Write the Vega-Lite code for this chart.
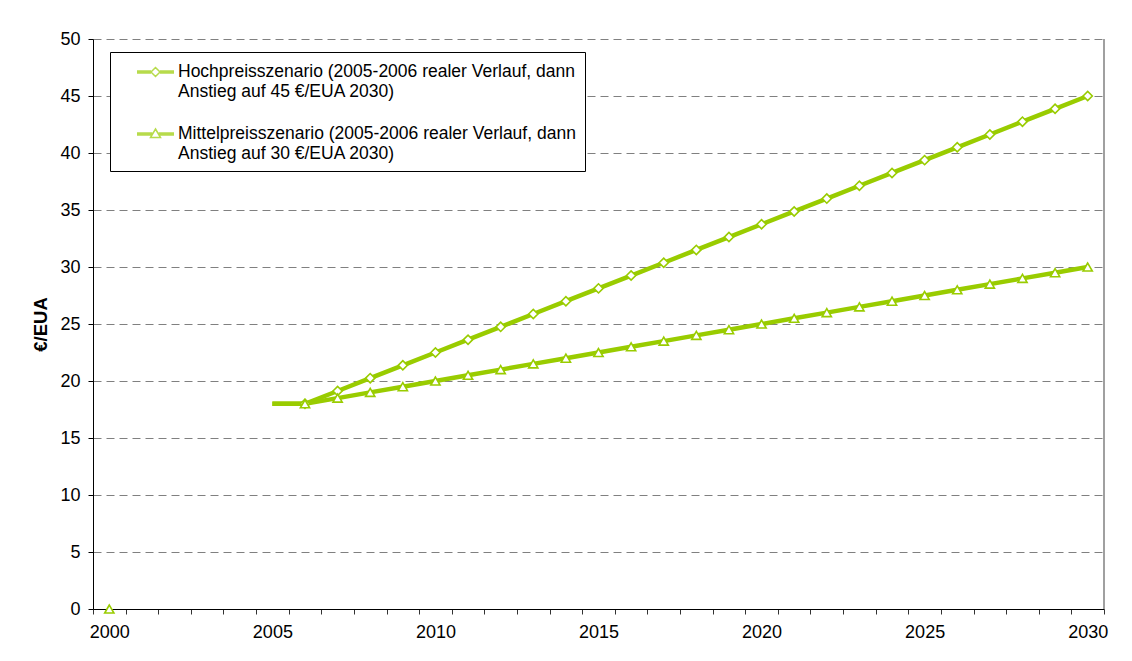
{
  "$schema": "https://vega.github.io/schema/vega-lite/v6.json",
  "width": 1011,
  "height": 570,
  "autosize": "none",
  "padding": {"left": 93, "top": 39, "right": 28, "bottom": 52},
  "background": "white",
  "config": {"view": {"stroke": null}, "font": "Liberation Sans"},
  "datasets": {
    "prices": [
      {"year": 2005, "value": 18, "series": "Hochpreisszenario (2005-2006 realer Verlauf, dann Anstieg auf 45 €/EUA 2030)"},
      {"year": 2006, "value": 18, "series": "Hochpreisszenario (2005-2006 realer Verlauf, dann Anstieg auf 45 €/EUA 2030)"},
      {"year": 2007, "value": 19.125, "series": "Hochpreisszenario (2005-2006 realer Verlauf, dann Anstieg auf 45 €/EUA 2030)"},
      {"year": 2008, "value": 20.25, "series": "Hochpreisszenario (2005-2006 realer Verlauf, dann Anstieg auf 45 €/EUA 2030)"},
      {"year": 2009, "value": 21.375, "series": "Hochpreisszenario (2005-2006 realer Verlauf, dann Anstieg auf 45 €/EUA 2030)"},
      {"year": 2010, "value": 22.5, "series": "Hochpreisszenario (2005-2006 realer Verlauf, dann Anstieg auf 45 €/EUA 2030)"},
      {"year": 2011, "value": 23.625, "series": "Hochpreisszenario (2005-2006 realer Verlauf, dann Anstieg auf 45 €/EUA 2030)"},
      {"year": 2012, "value": 24.75, "series": "Hochpreisszenario (2005-2006 realer Verlauf, dann Anstieg auf 45 €/EUA 2030)"},
      {"year": 2013, "value": 25.875, "series": "Hochpreisszenario (2005-2006 realer Verlauf, dann Anstieg auf 45 €/EUA 2030)"},
      {"year": 2014, "value": 27, "series": "Hochpreisszenario (2005-2006 realer Verlauf, dann Anstieg auf 45 €/EUA 2030)"},
      {"year": 2015, "value": 28.125, "series": "Hochpreisszenario (2005-2006 realer Verlauf, dann Anstieg auf 45 €/EUA 2030)"},
      {"year": 2016, "value": 29.25, "series": "Hochpreisszenario (2005-2006 realer Verlauf, dann Anstieg auf 45 €/EUA 2030)"},
      {"year": 2017, "value": 30.375, "series": "Hochpreisszenario (2005-2006 realer Verlauf, dann Anstieg auf 45 €/EUA 2030)"},
      {"year": 2018, "value": 31.5, "series": "Hochpreisszenario (2005-2006 realer Verlauf, dann Anstieg auf 45 €/EUA 2030)"},
      {"year": 2019, "value": 32.625, "series": "Hochpreisszenario (2005-2006 realer Verlauf, dann Anstieg auf 45 €/EUA 2030)"},
      {"year": 2020, "value": 33.75, "series": "Hochpreisszenario (2005-2006 realer Verlauf, dann Anstieg auf 45 €/EUA 2030)"},
      {"year": 2021, "value": 34.875, "series": "Hochpreisszenario (2005-2006 realer Verlauf, dann Anstieg auf 45 €/EUA 2030)"},
      {"year": 2022, "value": 36, "series": "Hochpreisszenario (2005-2006 realer Verlauf, dann Anstieg auf 45 €/EUA 2030)"},
      {"year": 2023, "value": 37.125, "series": "Hochpreisszenario (2005-2006 realer Verlauf, dann Anstieg auf 45 €/EUA 2030)"},
      {"year": 2024, "value": 38.25, "series": "Hochpreisszenario (2005-2006 realer Verlauf, dann Anstieg auf 45 €/EUA 2030)"},
      {"year": 2025, "value": 39.375, "series": "Hochpreisszenario (2005-2006 realer Verlauf, dann Anstieg auf 45 €/EUA 2030)"},
      {"year": 2026, "value": 40.5, "series": "Hochpreisszenario (2005-2006 realer Verlauf, dann Anstieg auf 45 €/EUA 2030)"},
      {"year": 2027, "value": 41.625, "series": "Hochpreisszenario (2005-2006 realer Verlauf, dann Anstieg auf 45 €/EUA 2030)"},
      {"year": 2028, "value": 42.75, "series": "Hochpreisszenario (2005-2006 realer Verlauf, dann Anstieg auf 45 €/EUA 2030)"},
      {"year": 2029, "value": 43.875, "series": "Hochpreisszenario (2005-2006 realer Verlauf, dann Anstieg auf 45 €/EUA 2030)"},
      {"year": 2030, "value": 45, "series": "Hochpreisszenario (2005-2006 realer Verlauf, dann Anstieg auf 45 €/EUA 2030)"},
      {"year": 2000, "value": 0, "series": "Mittelpreisszenario (2005-2006 realer Verlauf, dann Anstieg auf 30 €/EUA 2030)"},
      {"year": 2005, "value": 18, "series": "Mittelpreisszenario (2005-2006 realer Verlauf, dann Anstieg auf 30 €/EUA 2030)"},
      {"year": 2006, "value": 18, "series": "Mittelpreisszenario (2005-2006 realer Verlauf, dann Anstieg auf 30 €/EUA 2030)"},
      {"year": 2007, "value": 18.5, "series": "Mittelpreisszenario (2005-2006 realer Verlauf, dann Anstieg auf 30 €/EUA 2030)"},
      {"year": 2008, "value": 19, "series": "Mittelpreisszenario (2005-2006 realer Verlauf, dann Anstieg auf 30 €/EUA 2030)"},
      {"year": 2009, "value": 19.5, "series": "Mittelpreisszenario (2005-2006 realer Verlauf, dann Anstieg auf 30 €/EUA 2030)"},
      {"year": 2010, "value": 20, "series": "Mittelpreisszenario (2005-2006 realer Verlauf, dann Anstieg auf 30 €/EUA 2030)"},
      {"year": 2011, "value": 20.5, "series": "Mittelpreisszenario (2005-2006 realer Verlauf, dann Anstieg auf 30 €/EUA 2030)"},
      {"year": 2012, "value": 21, "series": "Mittelpreisszenario (2005-2006 realer Verlauf, dann Anstieg auf 30 €/EUA 2030)"},
      {"year": 2013, "value": 21.5, "series": "Mittelpreisszenario (2005-2006 realer Verlauf, dann Anstieg auf 30 €/EUA 2030)"},
      {"year": 2014, "value": 22, "series": "Mittelpreisszenario (2005-2006 realer Verlauf, dann Anstieg auf 30 €/EUA 2030)"},
      {"year": 2015, "value": 22.5, "series": "Mittelpreisszenario (2005-2006 realer Verlauf, dann Anstieg auf 30 €/EUA 2030)"},
      {"year": 2016, "value": 23, "series": "Mittelpreisszenario (2005-2006 realer Verlauf, dann Anstieg auf 30 €/EUA 2030)"},
      {"year": 2017, "value": 23.5, "series": "Mittelpreisszenario (2005-2006 realer Verlauf, dann Anstieg auf 30 €/EUA 2030)"},
      {"year": 2018, "value": 24, "series": "Mittelpreisszenario (2005-2006 realer Verlauf, dann Anstieg auf 30 €/EUA 2030)"},
      {"year": 2019, "value": 24.5, "series": "Mittelpreisszenario (2005-2006 realer Verlauf, dann Anstieg auf 30 €/EUA 2030)"},
      {"year": 2020, "value": 25, "series": "Mittelpreisszenario (2005-2006 realer Verlauf, dann Anstieg auf 30 €/EUA 2030)"},
      {"year": 2021, "value": 25.5, "series": "Mittelpreisszenario (2005-2006 realer Verlauf, dann Anstieg auf 30 €/EUA 2030)"},
      {"year": 2022, "value": 26, "series": "Mittelpreisszenario (2005-2006 realer Verlauf, dann Anstieg auf 30 €/EUA 2030)"},
      {"year": 2023, "value": 26.5, "series": "Mittelpreisszenario (2005-2006 realer Verlauf, dann Anstieg auf 30 €/EUA 2030)"},
      {"year": 2024, "value": 27, "series": "Mittelpreisszenario (2005-2006 realer Verlauf, dann Anstieg auf 30 €/EUA 2030)"},
      {"year": 2025, "value": 27.5, "series": "Mittelpreisszenario (2005-2006 realer Verlauf, dann Anstieg auf 30 €/EUA 2030)"},
      {"year": 2026, "value": 28, "series": "Mittelpreisszenario (2005-2006 realer Verlauf, dann Anstieg auf 30 €/EUA 2030)"},
      {"year": 2027, "value": 28.5, "series": "Mittelpreisszenario (2005-2006 realer Verlauf, dann Anstieg auf 30 €/EUA 2030)"},
      {"year": 2028, "value": 29, "series": "Mittelpreisszenario (2005-2006 realer Verlauf, dann Anstieg auf 30 €/EUA 2030)"},
      {"year": 2029, "value": 29.5, "series": "Mittelpreisszenario (2005-2006 realer Verlauf, dann Anstieg auf 30 €/EUA 2030)"},
      {"year": 2030, "value": 30, "series": "Mittelpreisszenario (2005-2006 realer Verlauf, dann Anstieg auf 30 €/EUA 2030)"}
    ],
    "frame": [{"year": 2030, "low": 0, "high": 50}]
  },
  "data": {"name": "prices"},
  "encoding": {
    "x": {
      "field": "year",
      "type": "ordinal",
      "scale": {
        "type": "band",
        "domain": [2000, 2001, 2002, 2003, 2004, 2005, 2006, 2007, 2008, 2009, 2010, 2011, 2012, 2013, 2014, 2015, 2016, 2017, 2018, 2019, 2020, 2021, 2022, 2023, 2024, 2025, 2026, 2027, 2028, 2029, 2030],
        "paddingInner": 0,
        "paddingOuter": 0
      },
      "axis": {
        "title": null,
        "tickBand": "extent",
        "labelExpr": "datum.value % 5 === 0 ? datum.label : ''",
        "labelOverlap": false,
        "labelAngle": 0,
        "labelFontSize": 18,
        "labelColor": "#000",
        "labelPadding": 9,
        "domainColor": "#000",
        "tickColor": "#333",
        "tickSize": 5,
        "grid": false,
        "zindex": 0
      }
    },
    "y": {
      "field": "value",
      "type": "quantitative",
      "scale": {"domain": [0, 50], "nice": false, "zero": true},
      "axis": {
        "title": "€/EUA",
        "titleFontSize": 18.5,
        "titleFontWeight": "bold",
        "titleColor": "#000",
        "titlePadding": 9,
        "values": [0, 5, 10, 15, 20, 25, 30, 35, 40, 45, 50],
        "grid": true,
        "gridColor": "#808080",
        "gridDash": [8, 5],
        "gridWidth": 1,
        "domainColor": "#000",
        "tickColor": "#000",
        "tickSize": 5,
        "labelFontSize": 18,
        "labelColor": "#000",
        "labelPadding": 8
      }
    }
  },
  "resolve": {"scale": {"shape": "independent"}, "legend": {"shape": "independent"}},
  "layer": [
    {
      "data": {"name": "frame"},
      "mark": {"type": "rule", "color": "#808080", "strokeWidth": 1.5},
      "encoding": {
        "x": {"field": "year", "type": "ordinal", "bandPosition": 1},
        "y": {"field": "low", "type": "quantitative"},
        "y2": {"field": "high"}
      }
    },
    {
      "transform": [{"filter": "datum.year >= 2005"}],
      "mark": {"type": "line", "color": "#99CC00", "strokeWidth": 4.5},
      "encoding": {"detail": {"field": "series"}}
    },
    {
      "transform": [{"filter": "datum.year != 2005"}],
      "mark": {"type": "point", "filled": false, "fill": "white", "fillOpacity": 1, "stroke": "#99CC00", "strokeWidth": 1.6, "opacity": 1, "size": 85},
      "encoding": {
        "shape": {
          "field": "series",
          "type": "nominal",
          "scale": {
            "domain": ["Hochpreisszenario (2005-2006 realer Verlauf, dann Anstieg auf 45 €/EUA 2030)", "Mittelpreisszenario (2005-2006 realer Verlauf, dann Anstieg auf 30 €/EUA 2030)"],
            "range": ["diamond", "triangle-up"]
          },
          "legend": null
        }
      }
    },
    {
      "transform": [{"filter": "datum.year < 0"}],
      "mark": {"type": "point", "filled": false, "fill": "white", "stroke": "#99CC00", "strokeWidth": 1.5},
      "encoding": {
        "shape": {
          "field": "series",
          "type": "nominal",
          "scale": {
            "domain": ["Hochpreisszenario (2005-2006 realer Verlauf, dann Anstieg auf 45 €/EUA 2030)", "Mittelpreisszenario (2005-2006 realer Verlauf, dann Anstieg auf 30 €/EUA 2030)"],
            "range": [
              "M-1.85,0L-0.45,0M-1.85,-0.1L-0.45,-0.1M-1.85,0.1L-0.45,0.1M0.45,0L1.85,0M0.45,-0.1L1.85,-0.1M0.45,0.1L1.85,0.1M0,-0.45L0.45,0L0,0.45L-0.45,0Z",
              "M-1.85,0L-0.32,0M-1.85,-0.1L-0.32,-0.1M-1.85,0.1L-0.32,0.1M0.32,0L1.85,0M0.32,-0.1L1.85,-0.1M0.32,0.1L1.85,0.1M0,-0.5L0.5,0.35L-0.5,0.35Z"
            ]
          },
          "legend": {
            "orient": "none",
            "legendX": 17,
            "legendY": 13,
            "title": null,
            "strokeColor": "#000",
            "fillColor": "white",
            "padding": 9,
            "symbolSize": 400,
            "symbolOffset": 25.5,
            "symbolStrokeWidth": 1.5,
            "labelFontSize": 17.5,
            "labelColor": "#000",
            "labelLimit": 0,
            "labelOffset": 11.5,
            "rowPadding": 23,
            "labelExpr": "[slice(datum.label, 0, indexof(datum.label, ' Anstieg')) + '\u00a0\u00a0\u00a0\u00a0', slice(datum.label, indexof(datum.label, 'Anstieg'))]",
            "encode": {
              "labels": {
                "update": {
                  "lineHeight": {"value": 22}
                }
              }
            }
          }
        }
      }
    }
  ]
}
